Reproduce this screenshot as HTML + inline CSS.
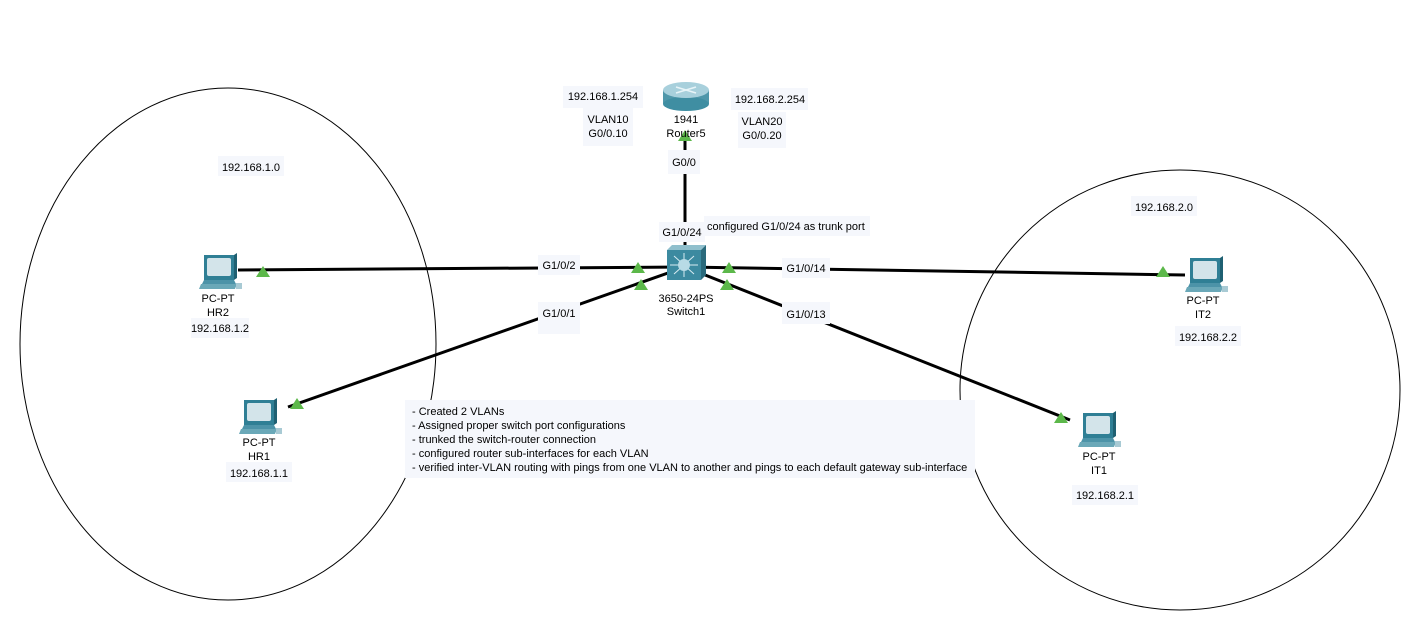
<!DOCTYPE html>
<html><head><meta charset="utf-8"><style>
body{margin:0;background:#fff;}
svg text{font-family:"Liberation Sans",Arial,sans-serif;font-size:11px;fill:#000;}
</style></head><body>
<svg width="1401" height="620" viewBox="0 0 1401 620" xmlns="http://www.w3.org/2000/svg">
<defs>
<g id="pc">
<rect x="4" y="0" width="30" height="25" fill="#2f7f95"/>
<polygon points="34,0 37,-2 37,23 34,25" fill="#1f6072"/>
<rect x="7" y="3" width="24" height="18" rx="2" fill="#d3e4ea"/>
<polygon points="4,25 34,25 36,29 2,29" fill="#4c93a8"/>
<polygon points="1,29 37,29 35,34 -1,34" fill="#6aa8b8"/>
<rect x="36" y="28" width="6" height="6" fill="#a8cad4"/>
</g>
<polygon id="tri" points="0,-6 7,5 -7,5" fill="#5cb84a"/>
</defs>
<ellipse cx="228" cy="344" rx="208" ry="256" fill="none" stroke="#000" stroke-width="1"/>
<circle cx="1180" cy="390" r="220" fill="none" stroke="#000" stroke-width="1"/>
<g stroke="#000" stroke-width="3">
<line x1="238" y1="270" x2="685" y2="267"/>
<line x1="288" y1="407" x2="685" y2="267"/>
<line x1="685" y1="267" x2="1185" y2="275"/>
<line x1="685" y1="267" x2="1070" y2="420"/>
<line x1="685" y1="135" x2="685" y2="250"/>
</g>
<g fill="#f5f7fc">
<rect x="563" y="86" width="80" height="22"/><rect x="583" y="108" width="50" height="38"/>
<rect x="731" y="88" width="77" height="22"/><rect x="738" y="112" width="48" height="36"/>
<rect x="668" y="150" width="32" height="24"/>
<rect x="659" y="222" width="46" height="20"/><rect x="704" y="216" width="166" height="20"/>
<rect x="538" y="255" width="42" height="20"/><rect x="538" y="302" width="42" height="32"/>
<rect x="782" y="258" width="48" height="20"/><rect x="782" y="302" width="48" height="22"/>
<rect x="218" y="156" width="66" height="20"/><rect x="191" y="318" width="58" height="20"/>
<rect x="226" y="462" width="66" height="20"/>
<rect x="1131" y="196" width="66" height="20"/><rect x="1175" y="326" width="66" height="20"/>
<rect x="1072" y="485" width="66" height="20"/>
<rect x="405" y="400" width="570" height="78"/>
</g>
<!-- router -->
<rect x="663" y="90" width="46" height="14" fill="#4f97aa"/>
<ellipse cx="686" cy="104" rx="23" ry="7" fill="#3f8ea2"/>
<ellipse cx="686" cy="90" rx="23" ry="8" fill="#a8d0dc"/>
<g stroke="#e8f4f8" stroke-width="1.5"><line x1="676" y1="87" x2="696" y2="93"/><line x1="696" y1="87" x2="676" y2="93"/></g>
<!-- switch -->
<rect x="667" y="250" width="34" height="30" fill="#3c8aa0"/>
<polygon points="667,250 672,245 706,245 701,250" fill="#8fbfcd"/>
<polygon points="701,250 706,245 706,275 701,280" fill="#2a6a7c"/>
<g stroke="#d8ecf2" stroke-width="1"><line x1="684" y1="253" x2="684" y2="277"/><line x1="670" y1="265" x2="698" y2="265"/><line x1="674" y1="256" x2="694" y2="274"/><line x1="694" y1="256" x2="674" y2="274"/></g>
<circle cx="684" cy="265" r="6" fill="#b8dbe6"/>
<use href="#pc" x="200" y="255"/>
<use href="#pc" x="240" y="400"/>
<use href="#pc" x="1186" y="258"/>
<use href="#pc" x="1079" y="413"/>
<use href="#tri" x="263" y="272"/>
<use href="#tri" x="297" y="404"/>
<use href="#tri" x="638" y="268"/>
<use href="#tri" x="641" y="285"/>
<use href="#tri" x="729" y="268"/>
<use href="#tri" x="727" y="285"/>
<use href="#tri" x="1163" y="272"/>
<use href="#tri" x="1061" y="418"/>
<use href="#tri" x="685" y="136"/>
<g text-anchor="middle">
<text x="603" y="100">192.168.1.254</text>
<text x="608" y="123">VLAN10</text><text x="608" y="137">G0/0.10</text>
<text x="686" y="123">1941</text><text x="686" y="137">Router5</text>
<text x="770" y="103">192.168.2.254</text>
<text x="762" y="125">VLAN20</text><text x="762" y="139">G0/0.20</text>
<text x="684" y="166">G0/0</text>
<text x="682" y="236">G1/0/24</text>
<text x="559" y="269">G1/0/2</text><text x="559" y="317">G1/0/1</text>
<text x="806" y="272">G1/0/14</text><text x="806" y="318">G1/0/13</text>
<text x="686" y="302">3650-24PS</text><text x="686" y="315">Switch1</text>
<text x="251" y="171">192.168.1.0</text>
<text x="218" y="302">PC-PT</text><text x="218" y="316">HR2</text><text x="220" y="332">192.168.1.2</text>
<text x="259" y="446">PC-PT</text><text x="259" y="460">HR1</text><text x="259" y="477">192.168.1.1</text>
<text x="1164" y="211">192.168.2.0</text>
<text x="1203" y="304">PC-PT</text><text x="1203" y="318">IT2</text><text x="1208" y="341">192.168.2.2</text>
<text x="1099" y="460">PC-PT</text><text x="1099" y="474">IT1</text><text x="1105" y="499">192.168.2.1</text>
</g>
<text x="707" y="230">configured G1/0/24 as trunk port</text>
<text x="412" y="415">- Created 2 VLANs</text>
<text x="412" y="429">- Assigned proper switch port configurations</text>
<text x="412" y="443">- trunked the switch-router connection</text>
<text x="412" y="457">- configured router sub-interfaces for each VLAN</text>
<text x="412" y="471">- verified inter-VLAN routing with pings from one VLAN to another and pings to each default gateway sub-interface</text>
</svg>
</body></html>
